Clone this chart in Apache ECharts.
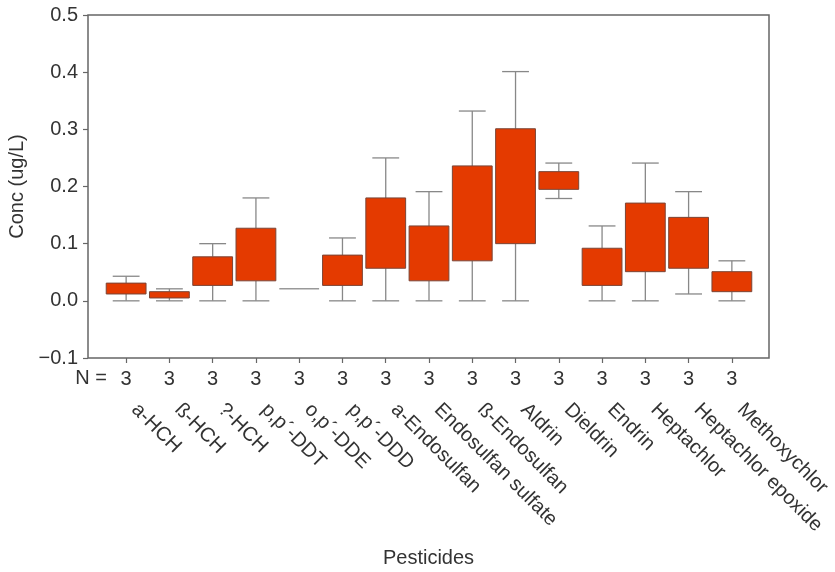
<!DOCTYPE html>
<html>
<head>
<meta charset="utf-8">
<script src="https://cdn.jsdelivr.net/npm/echarts@6/dist/echarts.min.js"></script>
<style>
  html, body { margin: 0; padding: 0; background: #fff; }
  #main { width: 835px; height: 572px; }
</style>
</head>
<body>
<div id="main"></div>
<script>
// pesticide names on the x axis
const pesticides = ['a-HCH', 'ß-HCH', '?-HCH', 'p,p´-DDT', 'o,p´-DDE', 'p,p´-DDD', 'a-Endosulfan',
  'Endosulfan sulfate', 'ß-Endosulfan', 'Aldrin', 'Dieldrin', 'Endrin', 'Heptachlor',
  'Heptachlor epoxide', 'Methoxychlor'];
const nCounts = [3, 3, 3, 3, 3, 3, 3, 3, 3, 3, 3, 3, 3, 3, 3];
// box plot values (ug/L)
const minVals = [0, 0, 0, 0, 0.021, 0, 0, 0, 0, 0, 0.179, 0, 0, 0.012, 0];
const q1Vals  = [0.012, 0.005, 0.027, 0.035, 0.021, 0.027, 0.057, 0.035, 0.070, 0.100, 0.195, 0.027, 0.051, 0.057, 0.016];
const q3Vals  = [0.031, 0.016, 0.077, 0.127, 0.021, 0.080, 0.180, 0.131, 0.236, 0.301, 0.226, 0.092, 0.171, 0.146, 0.051];
const maxVals = [0.043, 0.021, 0.100, 0.180, 0.021, 0.110, 0.250, 0.191, 0.332, 0.401, 0.241, 0.131, 0.241, 0.191, 0.070];
const yTicks = [-0.1, 0.5, 0.1]; // min, max, step

const font = 'Liberation Sans, Arial, sans-serif';
const textCol = '#333';
const fs = 20;

let boxData = pesticides.map((p, i) => [i, minVals[i], q1Vals[i], q3Vals[i], maxVals[i]]);

let myChart = echarts.init(document.getElementById('main'));

let option = {
  animation: false,
  backgroundColor: '#fff',
  textStyle: { fontFamily: font },
  grid: [
    { left: 88, right: 66, top: 15, bottom: 214, outerBoundsMode: 'none', containLabel: false,
      show: true, borderColor: '#666', borderWidth: 1.5, backgroundColor: 'transparent' },
    { left: 104.5, right: 81.5, top: 15, bottom: 214, outerBoundsMode: 'none', containLabel: false }
  ],
  xAxis: [
    {
      gridIndex: 0, type: 'value', min: 0, max: 1,
      axisLine: { show: false }, axisTick: { show: false }, axisLabel: { show: false }, splitLine: { show: false },
      name: 'Pesticides', nameLocation: 'middle', nameGap: 190,
      nameTextStyle: { fontSize: fs, color: textCol, fontFamily: font }
    },
    {
      gridIndex: 1, type: 'category', data: nCounts.map(String), position: 'bottom',
      axisLine: { show: false, onZero: false },
      axisTick: { show: true, alignWithLabel: true, length: 5, lineStyle: { color: '#666', width: 1.2 } },
      axisLabel: { margin: 11, fontSize: fs, color: textCol, fontFamily: font }
    },
    {
      gridIndex: 1, type: 'category', data: pesticides, position: 'bottom',
      axisLine: { show: false, onZero: false }, axisTick: { show: false },
      axisLabel: { margin: 40, rotate: -45, interval: 0, padding: [0, 0, 0, 12], fontSize: fs, color: textCol, fontFamily: font }
    }
  ],
  yAxis: [
    {
      gridIndex: 0, type: 'value', min: yTicks[0], max: yTicks[1], interval: yTicks[2],
      axisLine: { show: false, onZero: false },
      axisTick: { show: true, length: 5, lineStyle: { color: '#666', width: 1.2 } },
      splitLine: { show: false },
      axisLabel: {
        margin: 10, fontSize: fs, color: textCol, fontFamily: font,
        formatter: v => v.toFixed(1).replace('-', '\u2212')
      },
      name: 'Conc (ug/L)', nameLocation: 'middle', nameGap: 61,
      nameTextStyle: { fontSize: fs, color: textCol, fontFamily: font }
    },
    {
      gridIndex: 1, type: 'value', min: yTicks[0], max: yTicks[1], interval: yTicks[2], show: false
    }
  ],
  graphic: [
    {
      type: 'text', right: 835 - 107, top: 368,
      style: { text: 'N =', fontSize: fs, fill: textCol, fontFamily: font }
    }
  ],
  series: [
    {
      type: 'custom',
      xAxisIndex: 1, yAxisIndex: 1,
      data: boxData,
      renderItem: function (params, api) {
        let i = api.value(0);
        let band = api.size([1, 0])[0];
        let boxW = band * 0.92;
        let capW = band * 0.62;
        let pMin = api.coord([i, api.value(1)]);
        let pQ1 = api.coord([i, api.value(2)]);
        let pQ3 = api.coord([i, api.value(3)]);
        let pMax = api.coord([i, api.value(4)]);
        let x = pMin[0];
        let lineStyle = { stroke: '#888', lineWidth: 1.3 };
        let children = [];
        if (pMax[1] < pQ3[1] - 0.5) {
          children.push({ type: 'line', shape: { x1: x, y1: pQ3[1], x2: x, y2: pMax[1] }, style: lineStyle });
          children.push({ type: 'line', shape: { x1: x - capW / 2, y1: pMax[1], x2: x + capW / 2, y2: pMax[1] }, style: lineStyle });
        }
        if (pMin[1] > pQ1[1] + 0.5) {
          children.push({ type: 'line', shape: { x1: x, y1: pQ1[1], x2: x, y2: pMin[1] }, style: lineStyle });
          children.push({ type: 'line', shape: { x1: x - capW / 2, y1: pMin[1], x2: x + capW / 2, y2: pMin[1] }, style: lineStyle });
        }
        let h = pQ1[1] - pQ3[1];
        if (h > 0.5) {
          children.push({
            type: 'rect',
            shape: { x: x - boxW / 2, y: pQ3[1], width: boxW, height: h },
            style: { fill: '#E43A00', stroke: '#7a4536', lineWidth: 1 }
          });
        } else {
          children.push({ type: 'line', shape: { x1: x - boxW / 2, y1: pQ3[1], x2: x + boxW / 2, y2: pQ3[1] }, style: { stroke: '#999', lineWidth: 1.5 } });
        }
        return { type: 'group', children: children };
      }
    }
  ]
};

myChart.setOption(option);
</script>
</body>
</html>
